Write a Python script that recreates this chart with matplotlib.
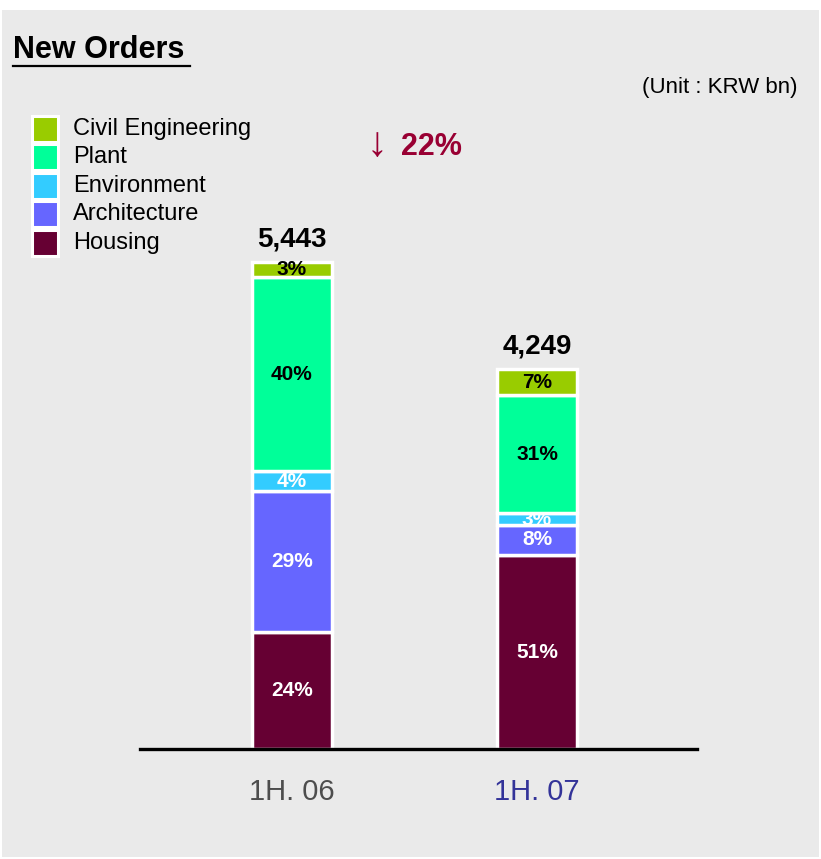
import numpy as np
import matplotlib.pyplot as plt
from matplotlib.patches import Rectangle

plt.rcParams['font.family'] = ['Liberation Sans', 'DejaVu Sans']

# data
periods = ['1H. 06', '1H. 07']
totals = [5443, 4249]
categories = ['Housing', 'Architecture', 'Environment', 'Plant', 'Civil Engineering']
shares = {
	'Housing': [24, 51],
	'Architecture': [29, 8],
	'Environment': [4, 3],
	'Plant': [40, 31],
	'Civil Engineering': [3, 7],
}
change_label = '22%'

colors = {
	'Housing': '#660033',
	'Architecture': '#6666FF',
	'Environment': '#33CCFF',
	'Plant': '#00FF99',
	'Civil Engineering': '#99CC00',
}
label_colors = {
	'Housing': 'white',
	'Architecture': 'white',
	'Environment': 'white',
	'Plant': 'black',
	'Civil Engineering': 'black',
}
tick_colors = ['#4D4D4D', '#333399']

W, H = 821, 859
fig = plt.figure(figsize=(W / 100, H / 100), dpi=100)
fig.patch.set_facecolor('white')

def px(x, y):
	# pixel (from top-left) -> figure fraction
	return x / W, 1 - y / H

# grey panel
x0, y0 = px(2, 857)
fig.patches.append(Rectangle((x0, y0), 817 / W, 847 / H, transform=fig.transFigure,
	facecolor='#EAEAEA', edgecolor='none', zorder=-10))

l, b = px(140, 749)
ax = fig.add_axes([l, b, 557 / W, 649 / H])
ax.set_facecolor('none')
ax.set_zorder(1)

x = np.arange(len(periods))
bottom = np.zeros(len(periods))
z = 2
for cat in categories:
	vals = np.array(totals) * np.array(shares[cat]) / 100.0
	bars = ax.bar(x, vals, 0.327, bottom=bottom, color=colors[cat],
		edgecolor='white', linewidth=2.5, zorder=z)
	for i, rect in enumerate(bars):
		t = ax.text(x[i], bottom[i] + vals[i] / 2, f'{shares[cat][i]}%',
			ha='center', va='center', fontsize=15, fontweight='bold',
			color=label_colors[cat], zorder=z + 1)
		t.set_clip_path(rect)
	bottom += vals
	z += 2

for i, tot in enumerate(totals):
	ax.annotate(f'{tot:,}', (x[i], tot), xytext=(0, 7), textcoords='offset points',
		ha='center', va='bottom', fontsize=20, fontweight='bold', color='black')

ax.set_xlim(-0.620, 1.653)
ax.set_ylim(0, 7254)
for s in ['top', 'right', 'left']:
	ax.spines[s].set_visible(False)
ax.spines['bottom'].set_linewidth(2.4)
ax.spines['bottom'].set_zorder(20)
ax.set_yticks([])
ax.set_xticks(x)
ax.set_xticklabels(periods, fontsize=21)
for lab, c in zip(ax.get_xticklabels(), tick_colors):
	lab.set_color(c)
ax.tick_params(axis='x', length=0, pad=21)

# title and unit
tx, ty = px(13, 50)
fig.text(tx, ty, 'New Orders', fontsize=22, fontweight='bold', va='center', ha='left')
ux0, uy = px(13, 66)
ux1, _ = px(190, 66)
fig.add_artist(plt.Line2D([ux0, ux1], [uy, uy], color='black', lw=1.6, transform=fig.transFigure))
tx, ty = px(797, 88)
fig.text(tx, ty, '(Unit : KRW bn)', fontsize=16, va='center', ha='right')

# legend (top to bottom reversed from stacking)
for k, cat in enumerate(reversed(categories)):
	cy = 129 + k * 28.4
	sx, sy = px(32, cy + 13)
	fig.patches.append(Rectangle((sx, sy), 26 / W, 26 / H, transform=fig.transFigure,
		facecolor=colors[cat], edgecolor='white', linewidth=2.2, zorder=3))
	lx, ly = px(73, cy)
	fig.text(lx, ly, cat, fontsize=17, va='center', ha='left')

# change marker
axx, axy = px(377, 145)
fig.text(axx, axy, '\u2193', fontsize=30, color='#990033', ha='center', va='center')
cx, cy = px(401, 147)
fig.text(cx, cy, change_label, fontsize=22, fontweight='bold', color='#990033',
	ha='left', va='center')

fig.savefig('out.png', dpi=100, facecolor=fig.get_facecolor())
